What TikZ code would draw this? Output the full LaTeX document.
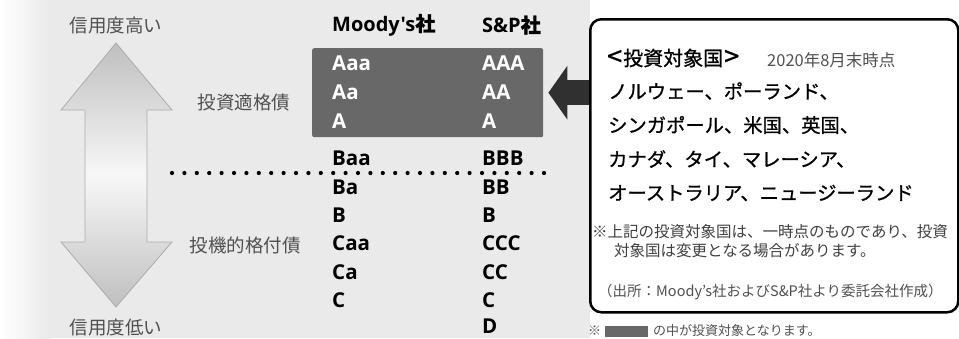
\documentclass[tikz,border=0pt]{standalone}
\usepackage{fontspec}
\setmainfont{Noto Sans CJK JP}
\newfontfamily\cjkmed{Noto Sans CJK JP}[FakeBold=0.9]
\newfontfamily\latinb{Open Sans}
\usetikzlibrary{arrows.meta}
\definecolor{boxdark}{RGB}{104,104,104}
\definecolor{arrowdark}{RGB}{48,48,48}
\definecolor{txtgray}{RGB}{80,80,80}
\definecolor{bggray}{RGB}{234,234,234}
\begin{document}
\begin{tikzpicture}[x=1pt,y=-1pt,
  lbl/.style={inner sep=0pt, font=\fontsize{18.5}{18.5}\selectfont, text=txtgray},
  hdr/.style={inner sep=0pt, anchor=west, font=\fontsize{20}{20}\selectfont\latinb\bfseries},
  rt/.style={inner sep=0pt, anchor=west, font=\fontsize{20.5}{20.5}\selectfont\latinb\bfseries},
  rtw/.style={rt, text=white},
  bx/.style={inner sep=0pt, anchor=west, font=\fontsize{19.3}{19.3}\selectfont\cjkmed},
  note/.style={inner sep=0pt, anchor=west, font=\fontsize{15.5}{15.5}\selectfont, text=black!75},
  small/.style={inner sep=0pt, anchor=west, font=\fontsize{14}{14}\selectfont, text=txtgray},
]
\useasboundingbox (0,0) rectangle (959,338);
\fill[white] (0,0) rectangle (959,338);
\shade[left color=white, right color=bggray] (0,0) rectangle (50,338);
\fill[bggray] (50,0) rectangle (590,338);

% big double arrow
\path[draw=gray!65, line width=0.8pt, top color=gray!50, bottom color=gray!50, middle color=gray!6]
  (116,43) -- (172,110) -- (147,110) -- (147,242) -- (172,242) -- (116,307)
  -- (61,242) -- (85,242) -- (85,110) -- (61,110) -- cycle;

\node[lbl] (hi) at (116,26) {信用度高い};
\node[lbl] (lo) at (116,328) {信用度低い};
\node[lbl] (ig) at (244,103) {投資適格債};
\node[lbl] (sg) at (245,245) {投機的格付債};

% rating box
\node[fill=boxdark, rounded corners=2pt, minimum width=231pt, minimum height=89pt,
      inner sep=0pt, anchor=north west] (rbox) at (312,48) {};

\node[hdr] (hm) at (332,25) {Moody's{\cjkmed 社}};
\node[hdr] (hs) at (482,25) {S\&P{\cjkmed 社}};

\node[rtw] (m1) at (332,63) {Aaa};
\node[rtw] (m2) at (332,92) {Aa};
\node[rtw] (m3) at (332,121) {A};
\node[rt] (m4) at (332,158) {Baa};
\node[rt] (m5) at (332,187) {Ba};
\node[rt] (m6) at (332,215) {B};
\node[rt] (m7) at (332,243) {Caa};
\node[rt] (m8) at (332,272) {Ca};
\node[rt] (m9) at (332,300) {C};

\node[rtw] (s1) at (482,63) {AAA};
\node[rtw] (s2) at (482,92) {AA};
\node[rtw] (s3) at (482,121) {A};
\node[rt] (s4) at (482,158) {BBB};
\node[rt] (s5) at (482,187) {BB};
\node[rt] (s6) at (482,215) {B};
\node[rt] (s7) at (482,243) {CCC};
\node[rt] (s8) at (482,272) {CC};
\node[rt] (s9) at (482,300) {C};
\node[rt] (s10) at (482,326.5) {D};

% dotted separator
\coordinate (dl) at (172,173);
\coordinate (dr) at (544,173);
\draw[line width=4.2pt, line cap=round, dash pattern=on 0pt off 12.4pt] (dl) -- (dr);

% info box
\node[draw, fill=white, line width=2.5pt, rounded corners=11pt, minimum width=368pt,
      minimum height=293pt, inner sep=0pt, anchor=north west] (info) at (589,18) {};

\draw[arrowdark, line width=25pt, -{Triangle[length=19pt,width=53pt]}]
  (info.west |- rbox.east) -- ([xshift=5pt]rbox.east);

\node[bx, font=\fontsize{20}{20}\selectfont\cjkmed] (t0) at (607,58)
  {\raisebox{-0.5pt}{\fontsize{27}{27}\selectfont<}\kern1pt 投資対象国\kern1pt\raisebox{-0.5pt}{\fontsize{27}{27}\selectfont>}};
\node[small, font=\fontsize{16.5}{16.5}\selectfont] (t0d) at (767,60) {2020年8月末時点};
\node[bx] (t1) at (608,91) {ノルウェー、ポーランド、};
\node[bx] (t2) at (608,125) {シンガポール、米国、英国、};
\node[bx] (t3) at (608,159) {カナダ、タイ、マレーシア、};
\node[bx] (t4) at (608,193) {オーストラリア、ニュージーランド};
\node[note] (n1) at (592,232) {※上記の投資対象国は、一時点のものであり、投資};
\node[note] (n2) at (614,251) {対象国は変更となる場合があります。};
\node[small, font=\fontsize{14.5}{14.5}\selectfont] (src) at (598,292) {（出所：Moody's社およびS\&P社より委託会社作成）};

% footer
\node[small, font=\fontsize{13}{13}\selectfont] (f0) at (588,331) {※};
\node[fill=boxdark, minimum width=43pt, minimum height=11pt, inner sep=0pt, anchor=west] (fbox) at (605,331) {};
\node[small, font=\fontsize{13}{13}\selectfont] (f1) at (653,331) {の中が投資対象となります。};
\end{tikzpicture}
\end{document}
